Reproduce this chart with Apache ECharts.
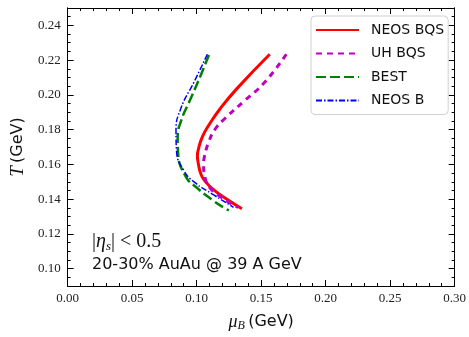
<!DOCTYPE html>
<html><head><meta charset="utf-8">
<script src="https://cdn.jsdelivr.net/npm/echarts@6/dist/echarts.min.js"></script>
<style>html,body{margin:0;padding:0;background:#fff}#c{width:469px;height:337px}</style>
</head><body><div id="c"></div>
<script>
const seriesNames = ['NEOS BQS', 'UH BQS', 'BEST', 'NEOS B'];
const neosBQS = [[0.1567,0.2234],[0.1312,0.2036],[0.1185,0.1923],[0.1100,0.1832],[0.1045,0.1760],[0.1014,0.1688],[0.1006,0.1650],[0.1011,0.1612],[0.1035,0.1540],[0.1070,0.1500],[0.1121,0.1461],[0.1223,0.1405],[0.1351,0.1345]];
const uhBQS = [[0.1695,0.2234],[0.1529,0.2074],[0.1363,0.1961],[0.1223,0.1867],[0.1141,0.1800],[0.1092,0.1725],[0.1062,0.1650],[0.1054,0.1603],[0.1064,0.1528],[0.1108,0.1461],[0.1185,0.1414],[0.1261,0.1377],[0.1322,0.1352]];
const best = [[0.1095,0.2229],[0.1031,0.2112],[0.0955,0.1980],[0.0878,0.1848],[0.0853,0.1754],[0.0857,0.1659],[0.0917,0.1528],[0.0993,0.1471],[0.1121,0.1396],[0.1223,0.1345],[0.1250,0.1335]];
const neosB = [[0.1083,0.2234],[0.0980,0.2074],[0.0878,0.1923],[0.0840,0.1792],[0.0844,0.1678],[0.0900,0.1565],[0.0980,0.1499],[0.1133,0.1424],[0.1274,0.1358],[0.1286,0.1352]];
const yMajor = [0.10,0.12,0.14,0.16,0.18,0.20,0.22,0.24];
const yMinor = [0.09,0.095,0.105,0.11,0.115,0.125,0.13,0.135,0.145,0.15,0.155,0.165,0.17,0.175,0.185,0.19,0.195,0.205,0.21,0.215,0.225,0.23,0.235,0.245,0.25];

const serif = 'Liberation Serif';
const sans = 'DejaVu Sans';
const axisLineStyle = {color:'#000', width:1};
function xAx(pos, showLabel, name){
  return {type:'value', position:pos, min:0, max:0.3, interval:0.05,
    axisLine:{show:true, lineStyle:axisLineStyle},
    axisTick:{show:true, inside:true, length:6, lineStyle:{color:'#000'}},
    minorTick:{show:true, splitNumber:5, length:3, lineStyle:{color:'#000'}},
    splitLine:{show:false}, minorSplitLine:{show:false},
    axisLabel:{show:showLabel, fontFamily:serif, fontSize:13, color:'#222', margin:6, formatter:v=>v.toFixed(2), showMinLabel:true, showMaxLabel:true},
    name: name, nameLocation:'middle', nameGap:26,
    nameTextStyle:{rich:{m:{fontFamily:serif, fontStyle:'italic', fontSize:18, color:'#111'}, s:{fontFamily:serif, fontStyle:'italic', fontSize:12, color:'#111', padding:[8,0,0,0]}, n:{fontFamily:sans, fontSize:16, color:'#111'}}}
  };
}
function yAx(pos, major, showLabel, name){
  const vals = major ? yMajor : yMinor;
  return {type:'value', position:pos, min:0.09, max:0.25, offset:0,
    axisLine:{show:true, lineStyle:axisLineStyle},
    axisTick:{show:true, inside:true, length: major?6:3, customValues: vals, lineStyle:{color:'#000'}},
    splitLine:{show:false},
    axisLabel:{show:showLabel, customValues: yMajor, fontFamily:serif, fontSize:13, color:'#222', margin:7, formatter:v=>v.toFixed(2)},
    name: name, nameLocation:'middle', nameGap:32, nameRotate:90,
    nameTextStyle:{rich:{m:{fontFamily:serif, fontStyle:'italic', fontSize:19, color:'#111'}, n:{fontFamily:sans, fontSize:16, color:'#111'}}}
  };
}
const chart = echarts.init(document.getElementById('c'), null, {renderer:'canvas'});
chart.setOption({
  animation:false,
  backgroundColor:'#fff',
  grid:{left:65, right:12, top:8, bottom:46},
  xAxis:[xAx('bottom', true, '{m|μ}{s|B} {n|(GeV)}'), xAx('top', false, '')],
  yAxis:[yAx('left', true, true, '{m|T} {n|(GeV)}'), yAx('left', false, false, ''), yAx('right', true, false, ''), yAx('right', false, false, '')],
  legend:{show:true, orient:'vertical', left:311, top:16,
    padding:[7,4,7,4], itemGap:9.5, itemWidth:43, itemHeight:14,
    borderColor:'#d0d0d0', borderWidth:1, borderRadius:4, backgroundColor:'rgba(255,255,255,0.8)',
    itemStyle:{opacity:0},
    textStyle:{fontFamily:sans, fontSize:14, color:'#111', padding:[0,0,0,7]},
    data: seriesNames},
  series:[
    {name:seriesNames[0], type:'line', data:neosBQS, showSymbol:false, symbol:'circle', smooth:0.5, lineStyle:{color:'#ff0000', width:3}, itemStyle:{color:'#ff0000'}},
    {name:seriesNames[1], type:'line', data:uhBQS, showSymbol:false, symbol:'circle', smooth:0.5, lineStyle:{color:'#bf00bf', width:3, type:[6,5]}, itemStyle:{color:'#bf00bf'}},
    {name:seriesNames[2], type:'line', data:best, showSymbol:false, symbol:'circle', smooth:0.5, lineStyle:{color:'#008000', width:2.5, type:[10,4]}, itemStyle:{color:'#008000'}},
    {name:seriesNames[3], type:'line', data:neosB, showSymbol:false, symbol:'circle', smooth:0.5, lineStyle:{color:'#0000ff', width:1.5, type:[6,2,1.5,2]}, itemStyle:{color:'#0000ff'}}
  ],
  graphic:[
    {type:'text', left:92, top:232, style:{text:'{n||}{i|η}{s|s}{n|| < 0.5}', rich:{n:{fontFamily:serif, fontSize:20, fill:'#111'}, i:{fontFamily:serif, fontStyle:'italic', fontSize:20, fill:'#111'}, s:{fontFamily:serif, fontStyle:'italic', fontSize:13, fill:'#111', padding:[9,0,0,0]}}}},
    {type:'text', left:92, top:257, style:{text:'20-30% AuAu @ 39 A GeV', fontFamily:sans, fontSize:16, fill:'#111'}}
  ]
});
</script></body></html>
